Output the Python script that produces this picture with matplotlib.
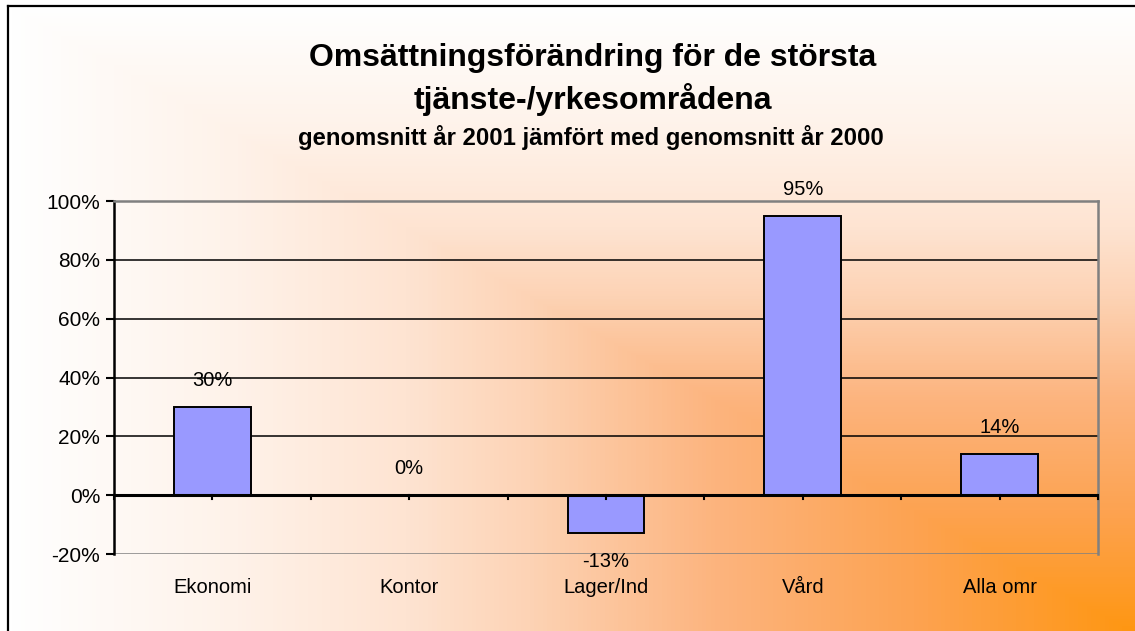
import numpy as np
import matplotlib
matplotlib.use("Agg")
import matplotlib.pyplot as plt
from matplotlib.colors import LinearSegmentedColormap
from matplotlib.lines import Line2D

# ---- data ----
categories = ["Ekonomi", "Kontor", "Lager/Ind", "Vård", "Alla omr"]
values = [0.30, 0.00, -0.13, 0.95, 0.14]
value_labels = ["30%", "0%", "-13%", "95%", "14%"]
yticks = [-0.2, 0.0, 0.2, 0.4, 0.6, 0.8, 1.0]
ytick_labels = ["-20%", "0%", "20%", "40%", "60%", "80%", "100%"]
title_line1 = "Omsättningsförändring för de största"
title_line2 = "tjänste-/yrkesområdena"
subtitle = "genomsnitt år 2001 jämfört med genomsnitt år 2000"

W, H = 1135, 631
DPI = 100
plt.rcParams['font.family'] = ['Liberation Sans', 'DejaVu Sans']

fig = plt.figure(figsize=(W / DPI, H / DPI), dpi=DPI)
fig.patch.set_facecolor("white")

# ---- background gradient (from-corner style) ----
bg = fig.add_axes([0, 0, 1, 1])
bg.set_xlim(0, W)
bg.set_ylim(H, 0)
bg.axis("off")
fx0, fy0 = 7.5, 6.0
gx = np.arange(W) + 0.5
gy = np.arange(H) + 0.5
XX, YY = np.meshgrid(gx, gy)
t = np.minimum((XX - fx0) / (W + 5 - fx0), (YY - fy0) / (H + 5 - fy0))
t = np.clip(t, 0, 1)
cmap = LinearSegmentedColormap.from_list(
    "grad",
    [(0.0, "#FFFFFF"), (0.2, "#FEF2E9"), (0.35, "#FEE4D2"), (0.46, "#FDD3B5"),
     (0.625, "#FCB47E"), (0.8, "#FDA352"), (1.0, "#FF9610")])
img = cmap(t)
mask = (XX < fx0) | (YY < fy0)
img[mask] = [1, 1, 1, 1]
bg.imshow(img, extent=(0, W, H, 0), interpolation="bilinear", aspect="auto")
bg.add_line(Line2D([fx0, fx0], [fy0, H + 5], color="black", lw=1.6))
bg.add_line(Line2D([fx0, W + 5], [fy0, fy0], color="black", lw=1.6))

# ---- titles ----
fig.text(593 / W, 1 - 58 / H, title_line1, ha="center", va="center",
         fontsize=23, fontweight="bold")
fig.text(593 / W, 1 - 100 / H, title_line2, ha="center", va="center",
         fontsize=23, fontweight="bold")
fig.text(591 / W, 1 - 137 / H, subtitle, ha="center", va="center",
         fontsize=17.2, fontweight="bold")

# ---- plot area ----
L, R, T, B = 114, 1098, 201, 554
ax = fig.add_axes([L / W, 1 - B / H, (R - L) / W, (B - T) / H])
ax.patch.set_alpha(0)
n = len(categories)
x = np.arange(n)
ax.set_xlim(-0.5, n - 0.5)
ax.set_ylim(-0.2, 1.0)

for yv in yticks[2:-1]:
    ax.axhline(yv, color="black", lw=1.1, zorder=1)

ax.bar(x, values, width=0.39, color="#9999FF", edgecolor="black",
       linewidth=1.4, zorder=3)

for xi, v, lab in zip(x, values, value_labels):
    off = -20 if v < 0 else 19
    ax.annotate(lab, (xi, v), xytext=(0, off), textcoords="offset points",
                ha="center", va="center", fontsize=14.5)

# spines
for s in ["top", "right"]:
    ax.spines[s].set_color("#808080")
    ax.spines[s].set_linewidth(1.8)
ax.spines["left"].set_color("black")
ax.spines["left"].set_linewidth(1.8)
ax.spines["bottom"].set_visible(False)
ax.axhline(-0.2, color="#808080", lw=1.8, zorder=2)
ax.axhline(0.0, color="black", lw=2.2, zorder=4)

ax.set_yticks(yticks)
ax.set_yticklabels(ytick_labels, fontsize=15)
ax.tick_params(axis="y", direction="out", length=6, width=1.5, pad=4)

# x ticks at category centers and boundaries, on the zero line
ax.set_xticks([])
for xt in np.arange(-0.5, n, 0.5):
    ax.plot([xt, xt], [0, -0.013], color="black", lw=1.5, zorder=4,
            clip_on=False)
for xi, c in zip(x, categories):
    ax.annotate(c, (xi, -0.2), xytext=(0, -24), textcoords="offset points",
                ha="center", va="center", fontsize=14.5, annotation_clip=False)

fig.savefig("out.png", dpi=DPI)
